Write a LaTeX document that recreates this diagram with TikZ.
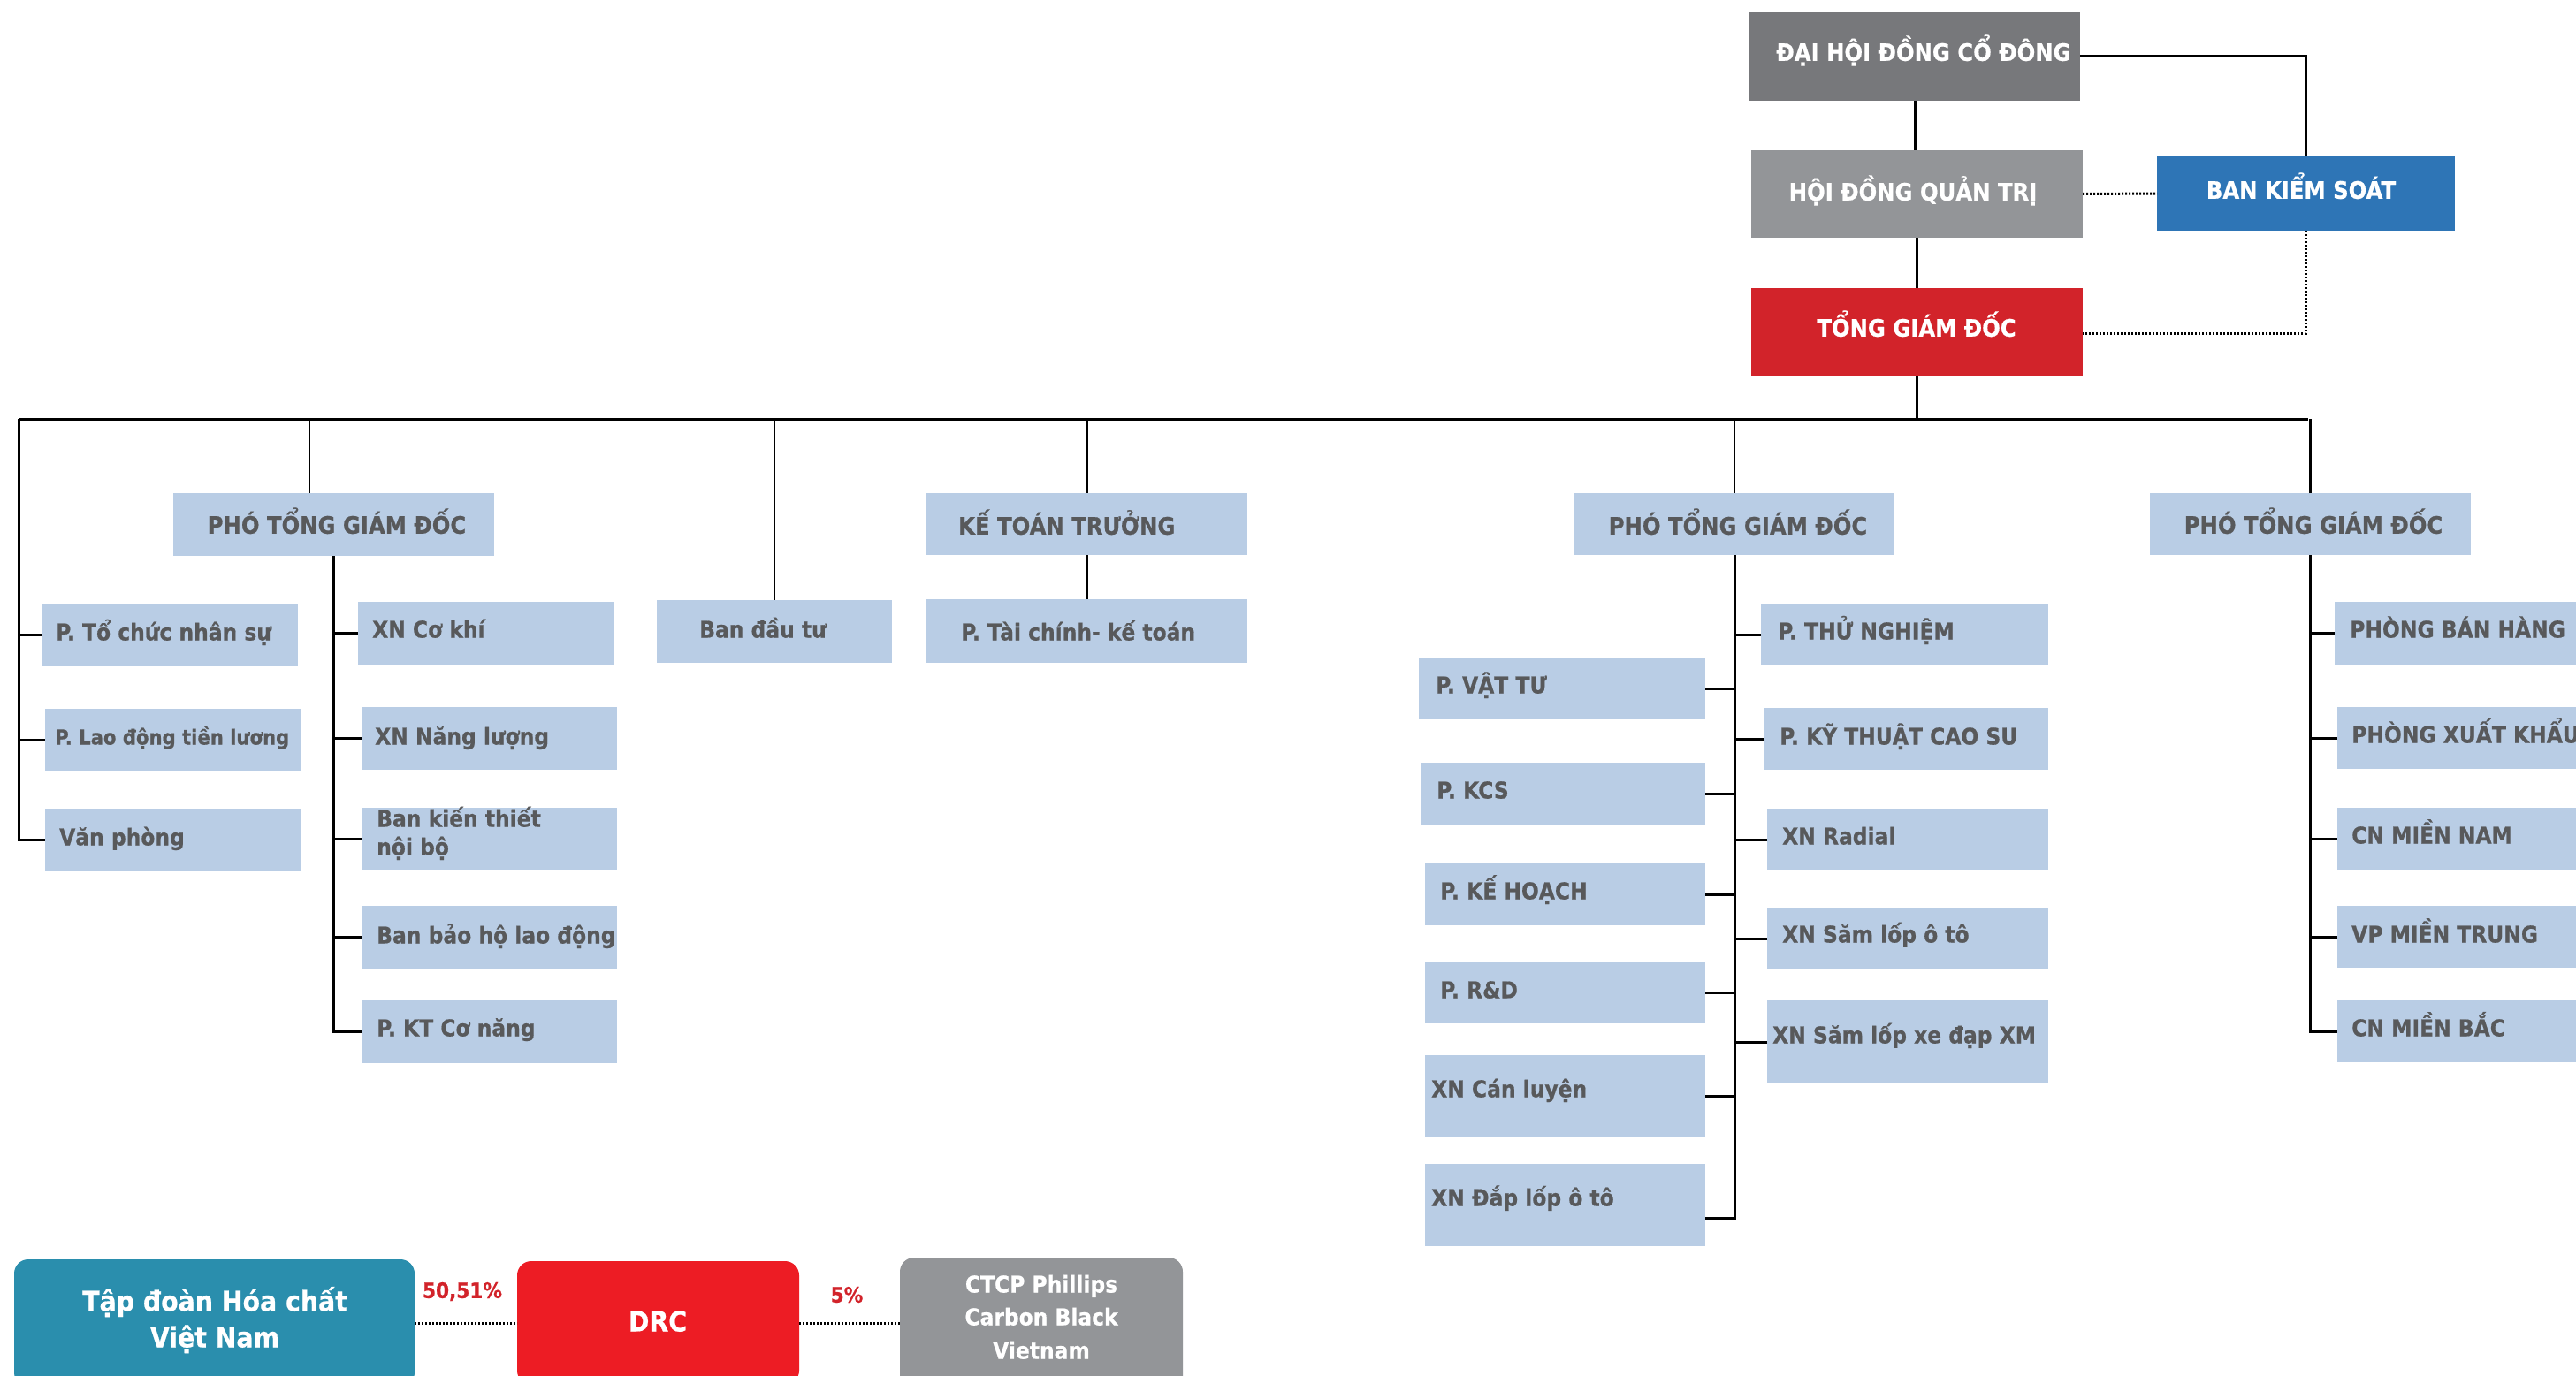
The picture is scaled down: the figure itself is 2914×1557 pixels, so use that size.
\documentclass[tikz,border=0pt]{standalone}
\usepackage{fontspec}
\setmainfont{DejaVu Sans}[FakeStretch=0.9, BoldFeatures={FakeBold=0.6}]
\usetikzlibrary{calc}
\definecolor{cDH}{HTML}{77787B}
\definecolor{cHD}{HTML}{939598}
\definecolor{cBK}{HTML}{2E75B6}
\definecolor{cTG}{HTML}{D2232A}
\definecolor{cLB}{HTML}{B9CDE5}
\definecolor{cTX}{HTML}{58595B}
\definecolor{cTD}{HTML}{2A8EAD}
\definecolor{cDR}{HTML}{ED1C24}
\definecolor{cPC}{HTML}{939598}
\definecolor{cPR}{HTML}{D2232A}
\newcommand{\obox}[6]{\node[orgbox=#2, minimum width={(#5)-(#3)}, minimum height={(#6)-(#4)}] (#1) at ({((#3)+(#5))/2},{((#4)+(#6))/2}) {};}
\begin{document}
\begin{tikzpicture}[x=1pt,y=-1pt,
  orgbox/.style={inner sep=0pt, outer sep=0pt, draw=none, fill=#1, rectangle},
  rbox/.style={inner sep=0pt, outer sep=0pt, draw=none, fill=#1, rectangle, rounded corners=16pt},
  txt/.style={inner sep=0pt, anchor=west, text=cTX, text height=19pt, text depth=0pt, font={\fontsize{26}{32}\selectfont\bfseries}},
  stxt/.style={txt, text height=17pt, font={\fontsize{23.5}{28}\selectfont\bfseries}},
  htxt/.style={inner sep=0pt, anchor=center, text=cTX, text height=19.7pt, text depth=0pt, font={\fontsize{27}{32}\selectfont\bfseries}},
  wtxt/.style={htxt, text=white},
  btxt/.style={inner sep=0pt, anchor=center, text=white, text height=23pt, text depth=0pt, font={\fontsize{31.5}{40}\selectfont\bfseries}},
  ctxt/.style={inner sep=0pt, anchor=center, text=white, text height=19pt, text depth=0pt, font={\fontsize{26}{32}\selectfont\bfseries}},
  ptxt/.style={inner sep=0pt, anchor=center, text=cPR, text height=17.5pt, text depth=0pt, font={\fontsize{24}{30}\selectfont\bfseries}},
  solidln/.style={line width=3pt, black},
  thinln/.style={line width=2.5pt, black},
  dotln/.style={line width=3pt, black, dash pattern=on 2pt off 2pt}]
\useasboundingbox (0,0) rectangle (2914,1557);
\clip (0,0) rectangle (2914,1557);
\fill[white] (0,0) rectangle (2914,1557);

% ---- top ----
\obox{dhd}{cDH}{1979}{14}{2353}{114}
\obox{hdqt}{cHD}{1981}{170}{2356}{269}
\obox{bks}{cBK}{2440}{177}{2777}{261}
\obox{tgd}{cTG}{1981}{326}{2356}{425}
\node[wtxt] (dhd-t) at (2176,59) {ĐẠI HỘI ĐỒNG CỔ ĐÔNG};
\node[wtxt] (hdqt-t) at (2164,217) {HỘI ĐỒNG QUẢN TRỊ};
\node[wtxt] (bks-t) at (2603,215) {BAN KIỂM SOÁT};
\node[wtxt] (tgd-t) at (2168,371) {TỔNG GIÁM ĐỐC};

% ---- headers ----
\obox{ptgd1}{cLB}{196}{558}{559}{629}
\obox{ktt}{cLB}{1048}{558}{1411}{628}
\obox{ptgd2}{cLB}{1781}{558}{2143}{628}
\obox{ptgd3}{cLB}{2432}{558}{2795}{628}
\node[htxt] (ptgd1-t) at (381,594) {PHÓ TỔNG GIÁM ĐỐC};
\node[htxt, anchor=west] (ktt-t) at (1084,595) {KẾ TOÁN TRƯỞNG};
\node[htxt] (ptgd2-t) at (1966,595) {PHÓ TỔNG GIÁM ĐỐC};
\node[htxt] (ptgd3-t) at (2617,594) {PHÓ TỔNG GIÁM ĐỐC};

% ---- left column ----
\obox{tcns}{cLB}{48}{683}{337}{754}
\obox{ldtl}{cLB}{51}{802}{340}{872}
\obox{vp}{cLB}{51}{915}{340}{986}
\node[txt] (tcns-t) at (63,715) {P. Tổ chức nhân sự};
\node[stxt] (ldtl-t) at (62,834) {P. Lao động tiền lương};
\node[txt] (vp-t) at (67,947) {Văn phòng};

% ---- PTGD1 children ----
\obox{xnck}{cLB}{405}{681}{694}{752}
\obox{xnnl}{cLB}{409}{800}{698}{871}
\obox{bktnb}{cLB}{409}{914}{698}{985}
\obox{bbhld}{cLB}{409}{1025}{698}{1096}
\obox{ktcn}{cLB}{409}{1132}{698}{1203}
\node[txt] (xnck-t) at (421,712) {XN Cơ khí};
\node[txt] (xnnl-t) at (424,833) {XN Năng lượng};
\node[txt] (bktnb-t1) at (426,926) {Ban kiến thiết};
\node[txt] (bktnb-t2) at (426,958) {nội bộ};
\node[txt] (bbhld-t) at (426,1058) {Ban bảo hộ lao động};
\node[txt] (ktcn-t) at (426,1163) {P. KT Cơ năng};

% ---- Ban dau tu, Tai chinh ----
\obox{bdt}{cLB}{743}{679}{1009}{750}
\obox{tckt}{cLB}{1048}{678}{1411}{750}
\node[txt] (bdt-t) at (791,712) {Ban đầu tư};
\node[txt] (tckt-t) at (1087,715) {P. Tài chính- kế toán};

% ---- PTGD2 left ----
\obox{vt}{cLB}{1605}{744}{1929}{814}
\obox{kcs}{cLB}{1608}{863}{1929}{933}
\obox{kh}{cLB}{1612}{977}{1929}{1047}
\obox{rd}{cLB}{1612}{1088}{1929}{1158}
\obox{xncl}{cLB}{1612}{1194}{1929}{1287}
\obox{xndl}{cLB}{1612}{1317}{1929}{1410}
\node[txt] (vt-t) at (1624,775) {P. VẬT TƯ};
\node[txt] (kcs-t) at (1625,894) {P. KCS};
\node[txt] (kh-t) at (1629,1008) {P. KẾ HOẠCH};
\node[txt] (rd-t) at (1629,1120) {P. R\&D};
\node[txt] (xncl-t) at (1619,1232) {XN Cán luyện};
\node[txt] (xndl-t) at (1619,1355) {XN Đắp lốp ô tô};

% ---- PTGD2 right ----
\obox{tn}{cLB}{1992}{683}{2317}{753}
\obox{ktcs}{cLB}{1996}{801}{2317}{871}
\obox{rad}{cLB}{1999}{915}{2317}{985}
\obox{slot}{cLB}{1999}{1027}{2317}{1097}
\obox{slxd}{cLB}{1999}{1132}{2317}{1226}
\node[txt] (tn-t) at (2011,714) {P. THỬ NGHIỆM};
\node[txt] (ktcs-t) at (2013,833) {P. KỸ THUẬT CAO SU};
\node[txt] (rad-t) at (2016,946) {XN Radial};
\node[txt] (slot-t) at (2016,1057) {XN Săm lốp ô tô};
\node[txt] (slxd-t) at (2005,1171) {XN Săm lốp xe đạp XM};

% ---- PTGD3 ----
\obox{pbh}{cLB}{2641}{681}{3000}{752}
\obox{pxk}{cLB}{2644}{800}{3000}{870}
\obox{cnmn}{cLB}{2644}{914}{3000}{985}
\obox{vpmt}{cLB}{2644}{1025}{3000}{1095}
\obox{cnmb}{cLB}{2644}{1132}{3000}{1202}
\node[txt] (pbh-t) at (2658,712) {PHÒNG BÁN HÀNG};
\node[txt] (pxk-t) at (2660,831) {PHÒNG XUẤT KHẨU};
\node[txt] (cnmn-t) at (2660,945) {CN MIỀN NAM};
\node[txt] (vpmt-t) at (2660,1057) {VP MIỀN TRUNG};
\node[txt] (cnmb-t) at (2660,1163) {CN MIỀN BẮC};

% ---- connectors top ----
\draw[solidln] (dhd.east) -| (bks.north);
\draw[solidln] (dhd.south) -- (dhd.south |- hdqt.north);
\draw[solidln] (hdqt.south) -- (hdqt.south |- tgd.north);
\draw[dotln] (hdqt.east) -- (bks.west);
\coordinate (tgdr) at ($(tgd.east)+(0,2)$);
\draw[dotln] (bks.south) |- (tgdr);

% ---- bus ----
\coordinate (busL) at (21,474);
\coordinate (busR) at (2611,474);
\coordinate (d1) at (350,474);
\draw[solidln] (tgd.south) -- (tgd.south |- busL);
\draw[solidln] (busL) -- (busR);
\draw[thinln] (d1) -- (d1 |- ptgd1.north);
\draw[thinln] (bdt.north) -- (bdt.north |- busL);
\draw[thinln] (ktt.north) -- (ktt.north |- busL);
\draw[thinln] (ptgd2.north) -- (ptgd2.north |- busL);
\draw[thinln] (ptgd3.north) -- (ptgd3.north |- busL);
\draw[thinln] (ktt.south) -- (tckt.north);

% ---- left trunk ----
\draw[solidln] (busL) |- (vp.west);
\draw[solidln] (tcns.west) -- (tcns.west -| busL);
\draw[solidln] (ldtl.west) -- (ldtl.west -| busL);

% ---- PTGD1 trunk ----
\draw[solidln] (ptgd1.south) |- (ktcn.west);
\foreach \n in {xnck,xnnl,bktnb,bbhld}{\draw[solidln] (\n.west) -- (\n.west -| ptgd1.south);}

% ---- PTGD2 trunk ----
\coordinate (dlb) at ($(xndl.east)+(0,15)$);
\draw[solidln] (ptgd2.south) |- (dlb);
\foreach \n in {vt,kcs,kh,rd,xncl}{\draw[solidln] (\n.east) -- (\n.east -| ptgd2.south);}
\foreach \n in {tn,ktcs,rad,slot,slxd}{\draw[solidln] (\n.west) -- (\n.west -| ptgd2.south);}

% ---- PTGD3 trunk ----
\draw[solidln] (ptgd3.south) |- (cnmb.west);
\foreach \n in {pbh,pxk,cnmn,vpmt}{\draw[solidln] (\n.west) -- (\n.west -| ptgd3.south);}

% ---- bottom ----
\node[rbox=cTD, minimum width=453, minimum height=144] (tdhc) at (242.5,1497) {};
\node[rbox=cDR, minimum width=319, minimum height=140] (drc) at (744.5,1497) {};
\node[rbox=cPC, minimum width=320, minimum height=152] (ctcp) at (1178,1499) {};
\node[btxt] (tdhc-t1) at (243,1472) {Tập đoàn Hóa chất};
\node[btxt] (tdhc-t2) at (243,1513) {Việt Nam};
\node[btxt] (drc-t) at (744,1495) {DRC};
\node[ctxt] (ctcp-t1) at (1178,1453) {CTCP Phillips};
\node[ctxt] (ctcp-t2) at (1178,1490) {Carbon Black};
\node[ctxt] (ctcp-t3) at (1178,1528) {Vietnam};
\draw[dotln] (tdhc.east) -- (drc.west);
\draw[dotln] (drc.east) -- (drc.east -| ctcp.west);
\node[ptxt] (p1) at (523,1460) {50,51\%};
\node[ptxt] (p2) at (958,1465) {5\%};
\end{tikzpicture}
\end{document}
